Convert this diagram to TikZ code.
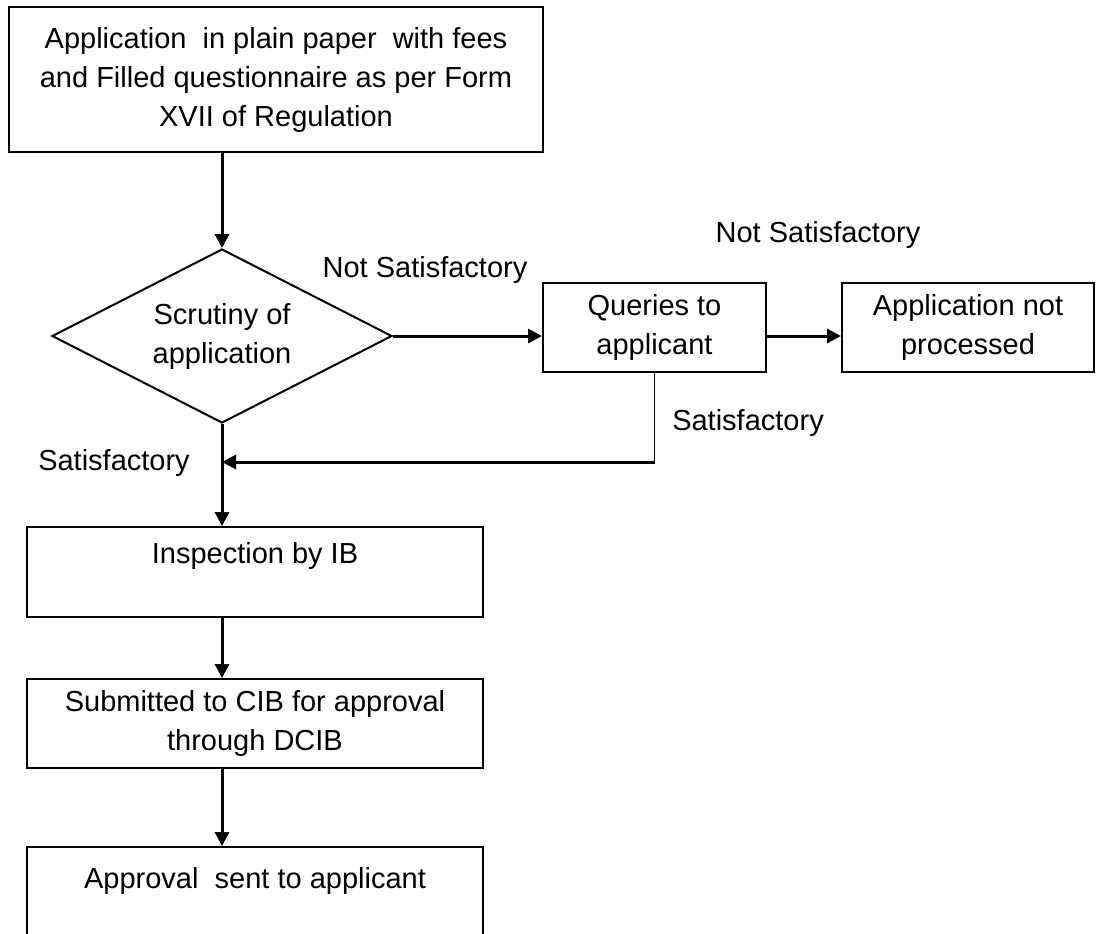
\documentclass[tikz,border=0pt]{standalone}
\usepackage{fontspec}
\setmainfont{Liberation Sans}
\usepackage{tikz}
\usetikzlibrary{positioning,shapes.geometric,arrows.meta}

\begin{document}
\begin{tikzpicture}[on grid,auto,
    font=\fontsize{14.5pt}{19.5pt}\selectfont,
    >={Triangle[length=7pt,width=7pt]},
    box/.style={draw,line width=1pt,align=center,inner sep=0pt},
    decision/.style={draw,diamond,line width=1pt,align=center,inner sep=0pt,
      shape aspect=2,minimum width=170pt,minimum height=87pt},
    flow/.style={->,line width=1.5pt}]
    \useasboundingbox (0,0) rectangle (548pt,-466.5pt);
    \clip (0,0) rectangle (548pt,-466.5pt);
    \node[box,minimum width=267pt,minimum height=72.5pt] (app) at (138pt,-39.75pt)
      {Application\ \ in plain paper\ \ with fees\\and Filled questionnaire as per Form\\XVII of Regulation};
    \node[decision] (scrutiny) [below left=128.25pt and 27pt of app] {Scrutiny of\\application};
    \node[box,minimum width=111.5pt,minimum height=44.5pt] (queries) [above right=4.25pt and 216.25pt of scrutiny] {Queries to\\applicant};
    \node[box,minimum width=126pt,minimum height=44.5pt] (notproc) [right=156.75pt of queries] {Application not\\processed};
    \node[box,minimum width=228pt,minimum height=45pt] (inspect) [below right=118pt and 16.5pt of scrutiny] {Inspection by IB\\\mbox{}};
    \node[box,minimum width=228pt,minimum height=44.5pt] (submit) [below=75.75pt of inspect] {Submitted to CIB for approval\\through DCIB};
    \node[box,minimum width=228pt,minimum height=50pt] (approve) [below=86.75pt of submit] {Approval\ \ sent to applicant\\\mbox{}};
    % labels
    \node (ns_1) [above right=33pt and 101.5pt of scrutiny] {Not Satisfactory};
    \node (ns_2) [above left=46.25pt and 75pt of notproc] {Not Satisfactory};
    \node (s_1)  [below right=47.75pt and 46.75pt of queries] {Satisfactory};
    \node (s_2)  [below left=63.5pt and 54pt of scrutiny] {Satisfactory};
    \coordinate (turn) at ([yshift=-67.25pt]queries.center);
    \coordinate (join) at (turn -| scrutiny.south);
    \path[flow]
    (app.south -| scrutiny.north) edge (scrutiny.north)
    (scrutiny.east) edge (scrutiny.east -| queries.west)
    (queries.east |- scrutiny.east) edge (notproc.west |- scrutiny.east)
    (scrutiny.south) edge (inspect.north -| scrutiny.south)
    (inspect.south -| scrutiny.south) edge (submit.north -| scrutiny.south)
    (submit.south -| scrutiny.south) edge (approve.north -| scrutiny.south);
    % back to the main line
    \draw[line width=0.7pt] (queries.south) -- (turn);
    \draw[flow] ([xshift=0.35pt]turn) -- (join);
  \end{tikzpicture}
\end{document}
